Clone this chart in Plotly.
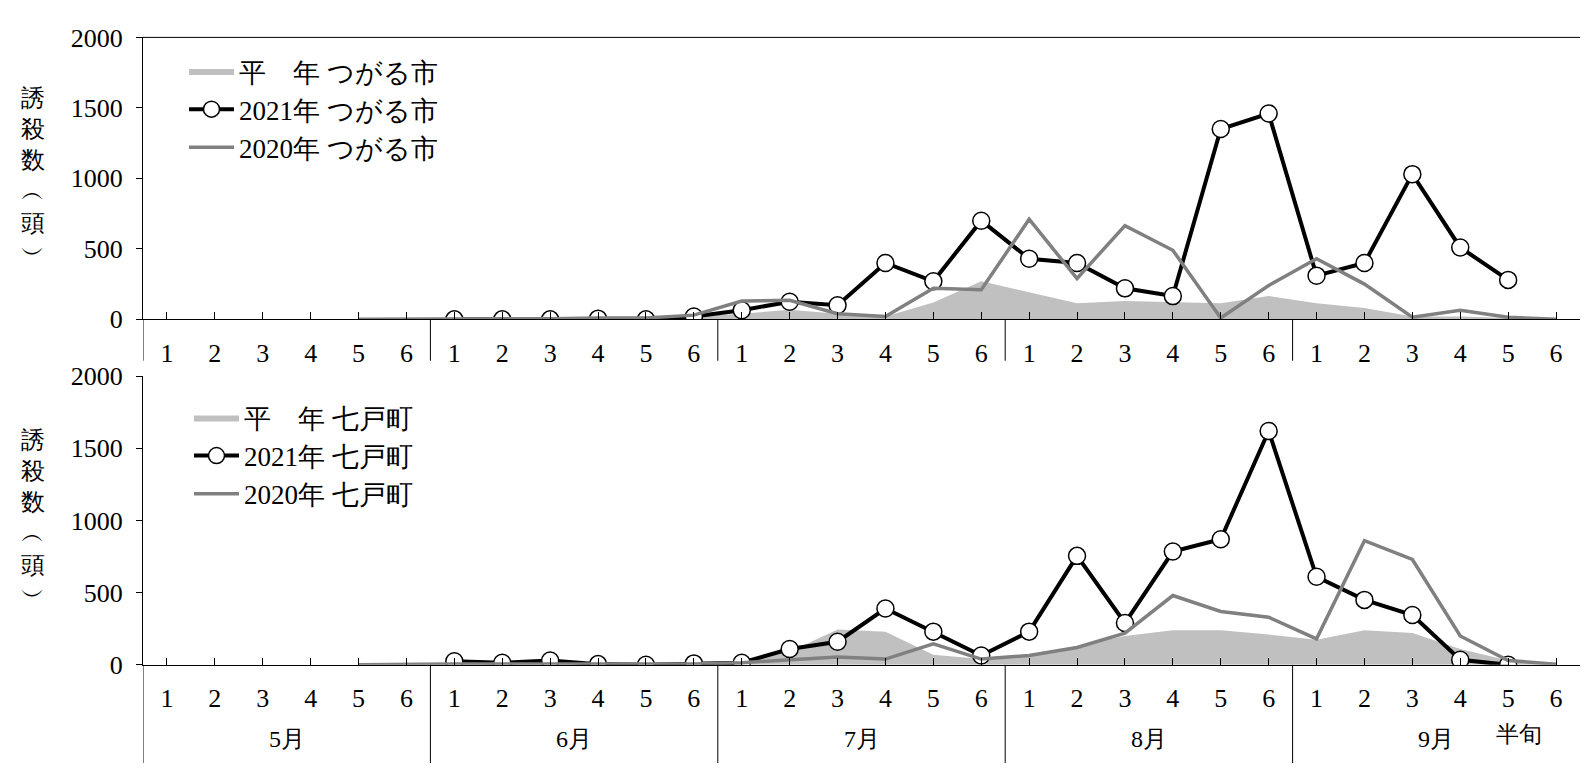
import plotly.graph_objects as go

half = [str(i) for i in range(1, 7)] * 5
months = ["5月", "6月", "7月", "8月", "9月"]
N = None

avg_tsugaru = [N, N, N, N, 0, 0, 5, 5, 5, 5, 5, 20, 40, 68, 40, 20, 120, 270,
               190, 115, 130, 120, 115, 165, 115, 80, 20, 20, 10, 0]
y2021_tsugaru = [N, N, N, N, N, N, 0, 0, 0, 5, 0, 20, 65, 125, 100, 400, 270, 700,
                 430, 400, 220, 165, 1350, 1460, 310, 400, 1030, 510, 280, N]
y2020_tsugaru = [N, N, N, N, 0, 0, 5, 5, 5, 10, 10, 30, 130, 135, 40, 20, 220, 210,
                 710, 290, 665, 490, 10, 240, 430, 250, 15, 65, 15, 0]

avg_shichinohe = [N, N, N, N, 5, 10, 10, 10, 10, 10, 10, 10, 15, 90, 245, 230, 70, 40,
                  70, 130, 200, 240, 240, 210, 173, 240, 220, 110, 30, 5]
y2021_shichinohe = [N, N, N, N, N, N, 25, 15, 30, 5, 0, 10, 15, 110, 160, 390, 230, 65,
                    230, 755, 290, 785, 870, 1620, 610, 450, 345, 35, 0, N]
y2020_shichinohe = [N, N, N, N, 0, 5, 5, 5, 5, 5, 5, 5, 15, 35, 55, 40, 145, 40,
                    65, 120, 220, 480, 370, 330, 180, 860, 730, 200, 30, 5]

FONT = "Liberation Serif"
x = list(range(30))

fig = go.Figure()


def add_panel(fig, avg, y21, y20, place, xa, ya, legend):
    fig.add_trace(go.Scatter(x=x, y=avg, name=f"平　年 {place}", fill="tozeroy",
                             fillcolor="#c0c0c0", line=dict(width=0, color="#c0c0c0"),
                             mode="lines", xaxis=xa, yaxis=ya, legend=legend))
    fig.add_trace(go.Scatter(x=x, y=y21, name=f"2021年 {place}", mode="lines+markers",
                             line=dict(color="black", width=4),
                             marker=dict(size=17, color="white", line=dict(color="black", width=1.5)),
                             xaxis=xa, yaxis=ya, legend=legend))
    fig.add_trace(go.Scatter(x=x, y=y20, name=f"2020年 {place}", mode="lines",
                             line=dict(color="#808080", width=3.5),
                             xaxis=xa, yaxis=ya, legend=legend))


add_panel(fig, avg_tsugaru, y2021_tsugaru, y2020_tsugaru, "つがる市", "x", "y", "legend")
add_panel(fig, avg_shichinohe, y2021_shichinohe, y2020_shichinohe, "七戸町", "x2", "y2", "legend2")

xd = [135 / 1589, 1572 / 1589]
common_x = dict(range=[-0.5, 29.5], tickvals=x, ticktext=half, ticks="inside", ticklen=7,
                tickcolor="black", showline=True, linecolor="black", linewidth=1,
                showgrid=False, zeroline=False, ticklabelstandoff=10,
                tickfont=dict(size=26, family=FONT, color="black"), domain=xd)
common_y = dict(range=[0, 2000], tickvals=[0, 500, 1000, 1500, 2000], ticks="outside",
                ticklen=6, tickcolor="black", showline=True, linecolor="black",
                showgrid=False, zeroline=False, ticklabelstandoff=8,
                tickfont=dict(size=26, family=FONT, color="black"))

leg = dict(font=dict(size=27, family=FONT, color="black"), bgcolor="rgba(0,0,0,0)",
           itemwidth=45, tracegroupgap=0, xanchor="left", yanchor="top")
fig.update_layout(
    width=1589, height=770, margin=dict(l=0, r=0, t=0, b=0),
    plot_bgcolor="white", paper_bgcolor="white", font=dict(family=FONT),
    xaxis=dict(common_x, anchor="y"),
    yaxis=dict(common_y, domain=[1 - 309 / 770, 1 - 16 / 770], anchor="x"),
    xaxis2=dict(common_x, anchor="y2"),
    yaxis2=dict(common_y, domain=[1 - 668 / 770, 1 - 368 / 770], anchor="x2"),
    legend=dict(leg, x=176 / 1589, y=1 - 26 / 770),
    legend2=dict(leg, x=181 / 1589, y=1 - 386 / 770),
)

shapes = []
# top border of upper panel
shapes.append(dict(type="line", xref="paper", yref="paper", x0=xd[0], x1=xd[1],
                   y0=1 - 16 / 770, y1=1 - 16 / 770, line=dict(color="black", width=1)))
# month separators
for b in [-0.5, 5.5, 11.5, 17.5, 23.5]:
    shapes.append(dict(type="line", xref="x", yref="paper", x0=b, x1=b,
                       y0=1 - 352 / 770, y1=1 - 309 / 770, line=dict(color="black", width=1)))
    shapes.append(dict(type="line", xref="x2", yref="paper", x0=b, x1=b,
                       y0=0, y1=1 - 668 / 770, line=dict(color="black", width=1)))
fig.update_layout(shapes=shapes)

ann = []
for i, m in enumerate(months):
    ann.append(dict(x=i * 6 + 2.5, xref="x2", y=1 - 745 / 770, yref="paper", text=m,
                    showarrow=False, yanchor="middle",
                    font=dict(size=24, family=FONT, color="black")))
ann.append(dict(x=1536 / 1589, xref="paper", y=1 - 740 / 770, yref="paper", text="半旬",
                showarrow=False, yanchor="middle",
                font=dict(size=23, family=FONT, color="black")))
title = "<br>".join(["誘", "殺", "数", "︵", "頭", "︶"])
for yc in [1 - 160 / 770, 1 - 515 / 770]:
    ann.append(dict(x=25 / 1589, xref="paper", y=yc, yref="paper", text=title,
                    showarrow=False, yanchor="middle", xanchor="center",
                    font=dict(size=24, family=FONT, color="black")))
fig.update_layout(annotations=ann)

fig.write_html("out.html")
